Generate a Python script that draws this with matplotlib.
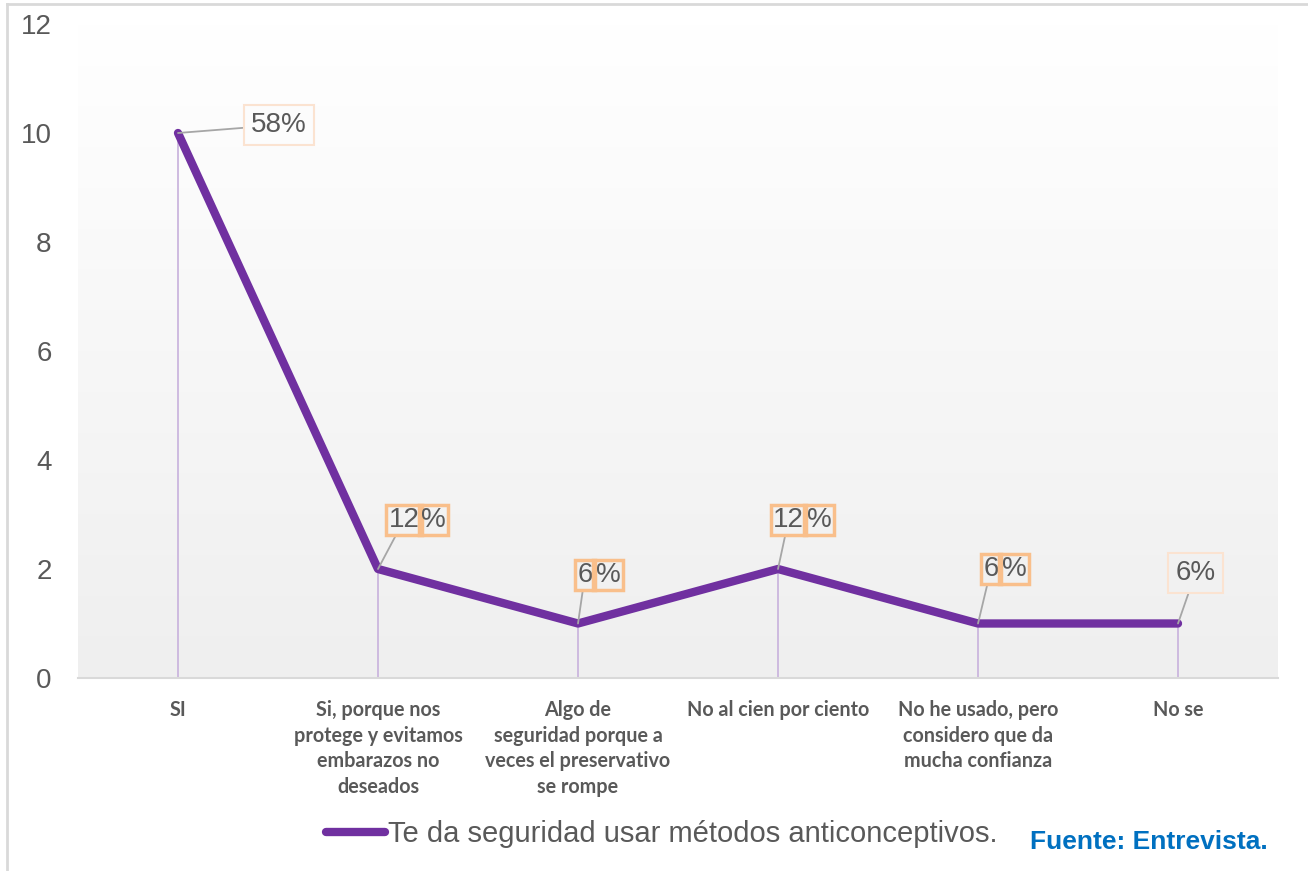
import numpy as np
import matplotlib
matplotlib.use("Agg")
import matplotlib.pyplot as plt
from matplotlib.lines import Line2D

plt.rcParams['font.family'] = ['Liberation Sans', 'DejaVu Sans']

# data
categories = [
    "SI",
    "Si, porque nos\nprotege y evitamos\nembarazos no\ndeseados",
    "Algo de\nseguridad porque a\nveces el preservativo\nse rompe",
    "No al cien por ciento",
    "No he usado, pero\nconsidero que da\nmucha confianza",
    "No se",
]
counts = [10, 2, 1, 2, 1, 1]
pct_labels = ["58%", "12%", "6%", "12%", "6%", "6%"]
series_name = "Te da seguridad usar métodos anticonceptivos."
source_text = "Fuente: Entrevista."

PURPLE = "#7030A0"
GREY_TXT = "#595959"

# label layout: how each label is split into boxes, and the box offsets in px
label_split = [None, 2, 1, 2, 1, None]
label_offsets = [
    [(101, 8)],
    [(26, 49), (55.5, 49)],
    [(7, 48.5), (30, 48.5)],
    [(10.5, 49), (41, 49)],
    [(13, 54.5), (36, 54.5)],
    [(17.5, 50.5)],
]

W, H = 1308, 871
fig = plt.figure(figsize=(W / 100, H / 100), dpi=100)
fig.patch.set_facecolor("white")

# outer chart frame
fig.add_artist(Line2D([7 / W, 7 / W], [0, 1 - 4 / H], color="#D9D9D9", lw=2))
fig.add_artist(Line2D([7 / W, 1], [1 - 4 / H, 1 - 4 / H], color="#D9D9D9", lw=2))

ax = fig.add_axes([78 / W, 1 - 678 / H, 1200 / W, 654 / H])

# gradient plot area background, white at top to light grey at bottom
grad = np.linspace(1.0, 0.0, 256).reshape(-1, 1, 1)
top_c = np.array([1.0, 1.0, 1.0])
bot_c = np.array([0xEF, 0xEF, 0xEF]) / 255.0
img = grad * top_c + (1 - grad) * bot_c
ax.imshow(img, extent=[0, 1, 0, 1], transform=ax.transAxes, aspect="auto", zorder=0)

x = np.arange(len(categories))
ax.vlines(x, 0, counts, color="#CBB6DE", lw=1.3, zorder=2)
ax.plot(x, counts, color=PURPLE, lw=6, solid_capstyle="round", solid_joinstyle="round",
        zorder=3, label=series_name)

ax.set_xlim(-0.5, len(categories) - 0.5)
ax.set_ylim(0, 12)
ax.set_yticks(range(0, 13, 2))
ax.tick_params(axis="y", length=0, pad=19, labelsize=20, labelcolor=GREY_TXT)
ax.set_xticks(x)
ax.set_xticklabels(categories, fontfamily="Lato", fontweight="bold", fontsize=14.2,
                   color=GREY_TXT, linespacing=1.34)
ax.tick_params(axis="x", length=0, pad=16)

for s in ["left", "right", "top"]:
    ax.spines[s].set_visible(False)
ax.spines["bottom"].set_color("#D9D9D9")
ax.spines["bottom"].set_linewidth(1.5)

# data labels
for i, lab in enumerate(pct_labels):
    cut = label_split[i]
    parts = [lab] if cut is None else [lab[:cut], lab[cut:]]
    single = cut is None
    edge = "#FBE3D1" if single else "#F9BF8B"
    elw = 1.5 if single else 2.5
    pad = 0.25 if single else 0.08
    for j, (txt, (dx, dy)) in enumerate(zip(parts, label_offsets[i])):
        arrow = None
        if j == 0:
            arrow = dict(arrowstyle="-", color="#A6A6A6", lw=1.3, shrinkA=0, shrinkB=0)
        ax.annotate(txt, xy=(x[i], counts[i]), xytext=(dx, dy), textcoords="offset pixels",
                    ha="center", va="center", fontsize=20, color=GREY_TXT,
                    bbox=dict(boxstyle="square,pad=%s" % pad, fc="none", ec=edge, lw=elw),
                    arrowprops=arrow, zorder=5)

fig.legend(handles=[Line2D([0], [0], color=PURPLE, lw=6, solid_capstyle="round")],
           labels=[series_name], loc="center", bbox_to_anchor=(0.506, 1 - 834 / H),
           frameon=False, fontsize=21, handlelength=2.0, handletextpad=0.1,
           labelcolor=GREY_TXT)

fig.text(1030 / W, 1 - 842 / H, source_text, ha="left", va="center", fontsize=19,
         fontweight="bold", color="#0070C0")

fig.savefig("out.png", dpi=100)
